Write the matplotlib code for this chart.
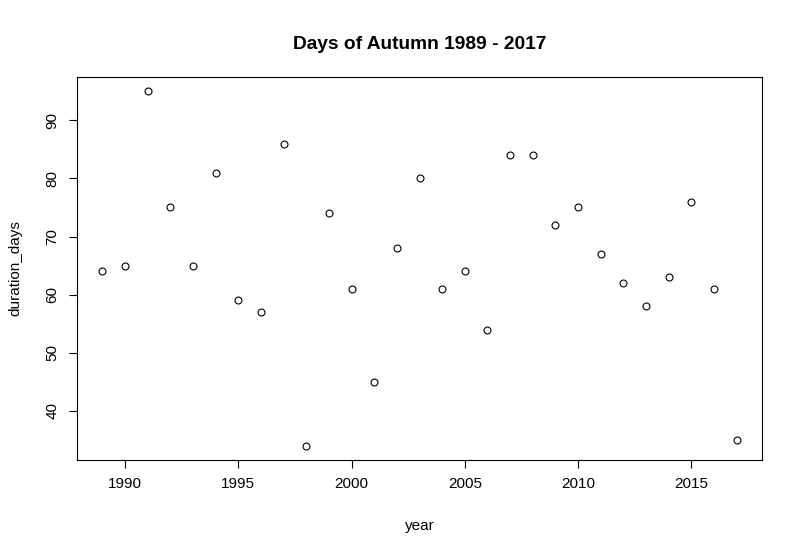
import numpy as np
import matplotlib.pyplot as plt

plt.rcParams['font.family'] = ['Liberation Sans', 'DejaVu Sans']

year = np.arange(1989, 2018)
duration_days = [64, 65, 95, 75, 65, 81, 59, 57, 86, 34, 74, 61, 45, 68, 80,
                 61, 64, 54, 84, 84, 72, 75, 67, 62, 58, 63, 76, 61, 35]

fig = plt.figure(figsize=(8.02, 5.58), dpi=100)
ax = fig.add_axes([77 / 802, 1 - 460 / 558, (762 - 77) / 802, (460 - 77) / 558])

ax.plot(year, duration_days, 'o', markerfacecolor='none', markeredgecolor='black',
        markersize=5, markeredgewidth=0.8)

# R style 4% padding
xr = year.max() - year.min()
yr = max(duration_days) - min(duration_days)
ax.set_xlim(year.min() - 0.04 * xr, year.max() + 0.04 * xr)
ax.set_ylim(min(duration_days) - 0.04 * yr, max(duration_days) + 0.04 * yr)

ax.set_xticks([1990, 1995, 2000, 2005, 2010, 2015])
ax.set_yticks([40, 50, 60, 70, 80, 90])
ax.tick_params(direction='out', length=5.5, width=0.8, labelsize=11, pad=7)
for lab in ax.get_yticklabels():
    lab.set_rotation(90)
    lab.set_va('center')
for s in ax.spines.values():
    s.set_linewidth(0.8)

ax.set_title("Days of Autumn 1989 - 2017", fontsize=13.8, fontweight='bold', pad=20)
ax.set_xlabel("year", fontsize=11, labelpad=20)
ax.set_ylabel("duration_days", fontsize=11, labelpad=17)

fig.savefig("out.png", dpi=100)
